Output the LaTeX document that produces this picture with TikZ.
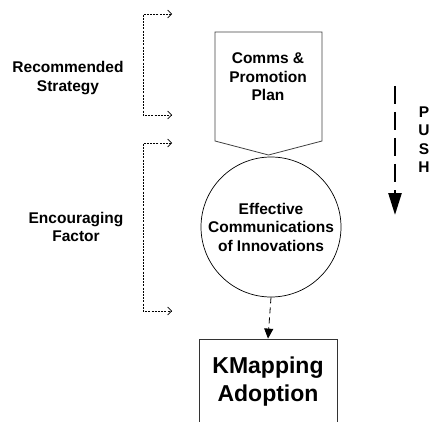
\documentclass[tikz,border=0pt]{standalone}
\usepackage{fontspec}
\setmainfont{Liberation Sans}
\usetikzlibrary{arrows.meta,positioning,calc}

\begin{document}
\begin{tikzpicture}[
    x=1pt, y=-1pt,
    lbl/.style={align=center, inner sep=0pt, font=\fontsize{15.5}{18.5}\selectfont\bfseries},
    bigl/.style={align=center, inner sep=0pt, font=\fontsize{23}{28}\selectfont\bfseries},
    circ/.style={circle, draw, line width=0.7pt, minimum size=140pt, lbl},
    adopt/.style={rectangle, draw=black!80, line width=0.8pt, minimum width=138pt, minimum height=86pt, bigl},
    shapeln/.style={draw=black!75, line width=0.8pt},
    brk/.style={dash pattern=on 2pt off 1.2pt, line width=0.6pt, {Straight Barb[length=4pt,width=8pt]}-{Straight Barb[length=4pt,width=8pt]}},
    dasharr/.style={dash pattern=on 6pt off 4pt, line width=0.8pt, -{Triangle[length=10pt,width=9pt]}},
    pusharr/.style={dash pattern=on 18pt off 8pt, line width=2.5pt, -{Triangle[length=22pt,width=13pt]}}
]
\useasboundingbox (0,0) rectangle (433,422);
\clip (0,0) rectangle (433,422);

% ---- Nodes (absolute positions, px) ----
\node[lbl]   (plan)  at (268,77)  {Comms \&\\Promotion\\Plan};
\node[circ]  (eff)   at (271,227) {Effective\\Communications\\of Innovations};
\node[adopt] (kmap)  at (268,382) {KMapping\\Adoption};
\node[lbl]   (rec)   at (68,78)   {Recommended\\Strategy};
\node[lbl]   (enc)   at (76,227)  {Encouraging\\Factor};

% ---- PUSH, one letter a line ----
\node[lbl]   (push-p) at (424,112)   {P};
\node[lbl]   (push-u) at (424,130.5) {U};
\node[lbl]   (push-s) at (424,149)   {S};
\node[lbl]   (push-h) at (424,167.5) {H};

% ---- Pentagon round the plan ----
\draw[shapeln] (215,32) -- (322,32) -- (322,141) -- (268.5,155) -- (215,141) -- cycle;

% ---- Bracket ends ----
\coordinate (rs-top) at (172,14);
\coordinate (rs-bot) at (172,115);
\coordinate (ef-top) at (172,143);
\coordinate (ef-bot) at (172,311);
\coordinate (push-a) at (395,86);
\coordinate (push-b) at (395,215);

% ---- Brackets ----
\draw[brk] (rs-top) -- ++(-29,0) |- (rs-bot);
\draw[brk] (ef-top) -- ++(-29,0) |- (ef-bot);

% ---- Flow ----
\draw[dasharr] (eff.south) -- (kmap.north);
\draw[pusharr] (push-a) -- (push-b);

\end{tikzpicture}
\end{document}
